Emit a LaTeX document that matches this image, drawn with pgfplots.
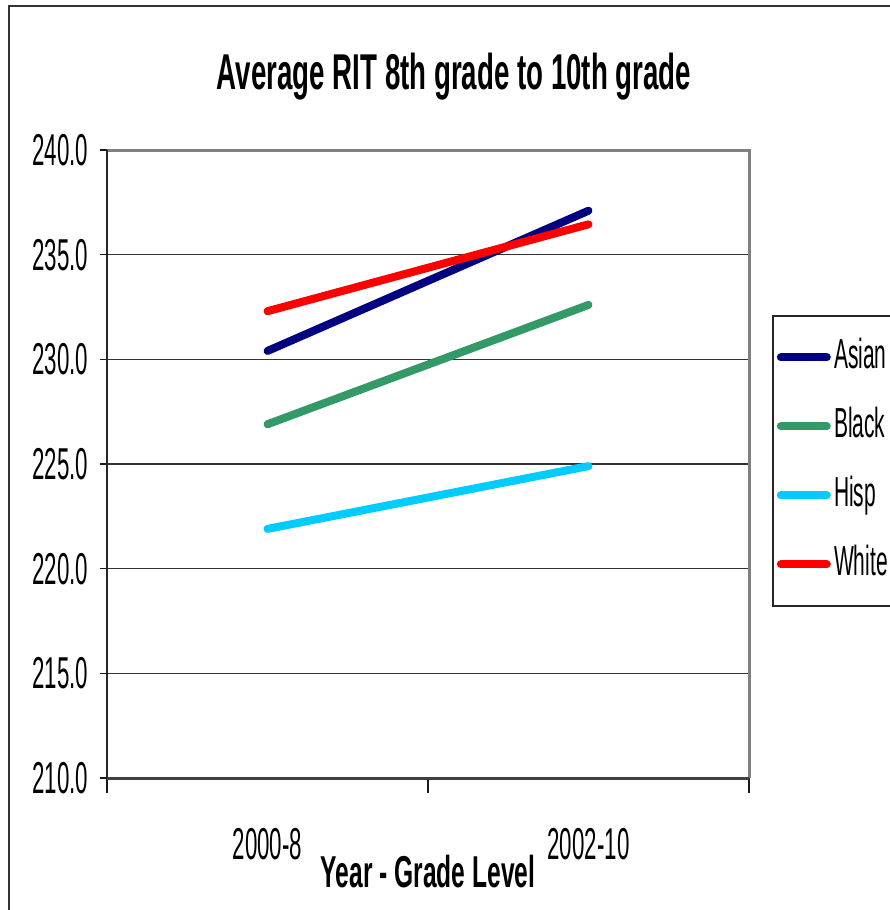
\documentclass[border=0pt]{standalone}
\usepackage{fontspec}
\setmainfont{Liberation Sans}[UprightFeatures={FakeStretch=0.5}, BoldFeatures={FakeStretch=0.55}]
\usepackage{pgfplots}
\pgfplotsset{compat=1.18}

\definecolor{asian}{HTML}{000080}
\definecolor{black2}{HTML}{339966}
\definecolor{hisp}{HTML}{00CCFF}
\definecolor{white2}{HTML}{FF0000}

\pgfplotstableread{
x  asian  black  hisp  white
1  230.4  226.9  221.9  232.3
2  237.1  232.6  224.9  236.45
}\ritdata

\begin{document}
\begin{tikzpicture}
% page: 890 x 910 px at 0.3pt per px
\useasboundingbox (0,0) rectangle (267pt,-273pt);
\clip (0,0) rectangle (267pt,-273pt);
\draw[black!80, line width=0.6pt] (2.6pt,-1.9pt) rectangle (280pt,-290pt);
\begin{axis}[
  at={(32.1pt,-233.4pt)}, anchor=south west,
  scale only axis, width=192.6pt, height=188.4pt,
  clip=false,
  xmin=0.5, xmax=2.5, ymin=210, ymax=240,
  xtick={1,2}, xticklabels={2000-8,2002-10},
  xtick style={draw=none},
  extra x ticks={0.5,1.5,2.5}, extra x tick labels={},
  extra x tick style={major tick length=4.5pt, xtick style={draw=black!90, line width=0.4pt}, grid=none},
  xtick pos=left, ytick pos=left,
  ytick={210,215,...,240},
  ytick style={draw=black!90, line width=0.4pt},
  major tick length=2.1pt,
  tick align=outside,
  ymajorgrids, grid style={black!80, line width=0.35pt},
  axis line style={draw=none},
  /pgf/number format/assume math mode=true,
  /pgf/number format/fixed,
  /pgf/number format/fixed zerofill,
  /pgf/number format/precision=1,
  yticklabel style={anchor=east, inner sep=0pt, xshift=-3.3pt, font=\fontsize{13.4}{16}\selectfont},
  xticklabel style={anchor=north, inner sep=0pt, yshift=-12.9pt, font=\fontsize{13.4}{16}\selectfont},
  xlabel={Year - Grade Level},
  xlabel style={at={(axis description cs:0.5,-0.1736)}, anchor=base, inner sep=0pt, font=\bfseries\fontsize{13.4}{16}\selectfont},
  title={Average RIT 8th grade to 10th grade},
  title style={at={(axis description cs:0.5405,1.0955)}, anchor=base, inner sep=0pt, yshift=-5.7pt, font=\bfseries\fontsize{15.1}{18}\selectfont},
  legend style={at={(axis description cs:1.0358,0.7373)}, anchor=north west,
    draw=black!85, line width=0.5pt, inner xsep=1.2pt, inner ysep=6.8pt,
    row sep=9.3pt, column sep=1.0pt,
    nodes={inner sep=0pt, text height=9pt, text depth=2.4pt},
    font=\fontsize{12.6}{15}\selectfont},
  legend cell align=left,
  legend image code/.code={
    \path (0pt,0pt) -- (13.8pt,0pt);
    \draw[#1, line width=2.4pt, line cap=round] (1.2pt,0pt) -- (12.4pt,0pt);
  },
]
\addplot[asian, line width=2.4pt, line cap=round] table[x=x, y=asian] {\ritdata};
\addlegendentry{Asian}
\addplot[black2, line width=2.4pt, line cap=round] table[x=x, y=black] {\ritdata};
\addlegendentry{Black}
\addplot[hisp, line width=2.4pt, line cap=round] table[x=x, y=hisp] {\ritdata};
\addlegendentry{Hisp}
\addplot[white2, line width=2.4pt, line cap=round] table[x=x, y=white] {\ritdata};
\addlegendentry{White}
% plot-area frame
\draw[gray, line width=0.9pt] (rel axis cs:0,1) -- (rel axis cs:1,1) -- (rel axis cs:1,0);
\draw[black!75, line width=0.9pt] (rel axis cs:0,0) -- (rel axis cs:1,0);
\draw[black!85, line width=0.45pt] (rel axis cs:0,0) -- (rel axis cs:0,1);
\end{axis}
\end{tikzpicture}
\end{document}
